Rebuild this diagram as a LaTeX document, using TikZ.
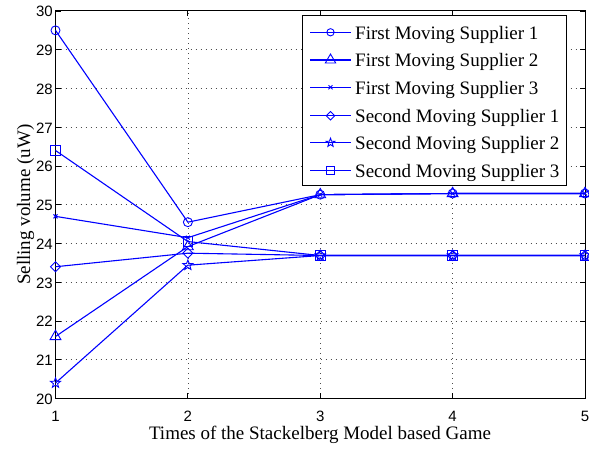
\documentclass[tikz,border=0pt]{standalone}
\usepackage{fontspec}
\setmainfont{Liberation Serif}
\newfontfamily\tickfont{Liberation Sans}
\usetikzlibrary{shapes.geometric,shapes.misc}

\definecolor{plotblue}{RGB}{0,0,255}

% one data series: #1 = name prefix, #2 = marker style, #3 = five values
\newcommand\plotseries[3]{%
  \foreach \v [count=\i] in {#3} { \coordinate (#1\i) at (\i,\v); }
  \draw[dataline] (#11) -- (#12) -- (#13) -- (#14) -- (#15);
  \foreach \i in {1,...,5} { \node[#2] (#1m\i) at (#1\i) {}; }
}

\begin{document}
\begin{tikzpicture}[x=1pt,y=1pt,
  dataline/.style={plotblue, line width=1.1pt},
  mk/.style={draw=plotblue, line width=0.9pt, inner sep=0pt, outer sep=0pt},
  mcirc/.style={mk, circle, minimum size=#1},
  mtri/.style={mk, regular polygon, regular polygon sides=3, minimum size=#1},
  mcross/.style={mk, cross out, minimum size=#1},
  mdiam/.style={mk, diamond, minimum size=#1},
  mstar/.style={mk, star, star points=5, star point ratio=2.4, minimum size=#1},
  msq/.style={mk, rectangle, minimum size=#1},
  gridline/.style={black!70, line width=0.6pt, dash pattern=on 0.7pt off 4.3pt},
  frame/.style={black, line width=1pt},
  tickmark/.style={black, line width=0.8pt},
  ticklabel/.style={font=\tickfont\fontsize{15}{17}\selectfont, inner sep=0pt},
  axislabel/.style={font=\fontsize{19}{22}\selectfont, inner sep=0pt},
  legtext/.style={font=\fontsize{19}{22}\selectfont, inner sep=0pt, anchor=base west},
]
\useasboundingbox (0,0) rectangle (589,449);

% plot area in data units: x = 1..5, y = 20..30
\begin{scope}[x=132.375pt, y=38.75pt, shift={(-76.875pt,-724.5pt)}]
  \coordinate (ll) at (1,20);
  \coordinate (ur) at (5,30);

  % dotted grid
  \foreach \gx in {2,3,4} \draw[gridline] (\gx,20) -- (\gx,30);
  \foreach \gy in {21,...,29} \draw[gridline] (1,\gy) -- (5,\gy);

  % inward ticks on all four sides
  \foreach \gx in {1,...,5} {
    \draw[tickmark] (\gx,20) -- ++(0,5pt);
    \draw[tickmark] (\gx,30) -- ++(0,-5pt);
    \node[ticklabel] (xt\gx) at ([yshift=-17.5pt]\gx,20) {\gx};
  }
  \foreach \gy in {20,...,30} {
    \draw[tickmark] (1,\gy) -- ++(5pt,0);
    \draw[tickmark] (5,\gy) -- ++(-5pt,0);
    \node[ticklabel, anchor=east] (yt\gy) at ([xshift=-2.5pt,yshift=-0.6pt]1,\gy) {\gy};
  }

  % axes box
  \draw[frame] (ll) rectangle (ur);

  % data
  \plotseries{fa}{mcirc=9pt}{29.5,24.55,25.26,25.29,25.29}
  \plotseries{fb}{mtri=12.5pt}{21.6,23.92,25.26,25.29,25.29}
  \plotseries{fc}{mcross=4pt}{24.7,24.15,25.26,25.29,25.29}
  \plotseries{sa}{mdiam=10pt}{23.4,23.75,23.69,23.69,23.69}
  \plotseries{sb}{mstar=10.5pt}{20.4,23.44,23.69,23.69,23.69}
  \plotseries{sc}{msq=9.5pt}{26.4,24.05,23.69,23.69,23.69}
\end{scope}

% axis labels
\node[axislabel, anchor=base] (xlab) at (320,9) {Times of the Stackelberg Model based Game};
\node[axislabel, anchor=base, rotate=90] (ylab) at (30,244.25) {Selling volume (uW)};

% legend
\node[draw=black, line width=0.9pt, fill=white, minimum width=264.3pt, minimum height=170pt,
      inner sep=0pt, anchor=north west] (legend) at (301.7,434) {};
\foreach \row/\ypos/\txt in {
    1/416.7/{First Moving Supplier 1},
    2/389.0/{First Moving Supplier 2},
    3/361.7/{First Moving Supplier 3},
    4/333.3/{Second Moving Supplier 1},
    5/306.3/{Second Moving Supplier 2},
    6/278.3/{Second Moving Supplier 3}} {
  \coordinate (la\row) at (310,\ypos);
  \coordinate (lb\row) at (351,\ypos);
  \draw[dataline] (la\row) -- (lb\row);
  \node[legtext] (lt\row) at (355,\ypos-7) {\txt};
}
\node[mcirc=7.3pt] (lm1) at (330.5,416.7) {};
\node[mtri=12pt] (lm2) at (330.5,389.0) {};
\node[mcross=4pt] (lm3) at (330.5,361.7) {};
\node[mdiam=8.5pt] (lm4) at (330.5,333.3) {};
\node[mstar=9pt] (lm5) at (330.5,306.3) {};
\node[msq=8pt] (lm6) at (330.5,278.3) {};
\end{tikzpicture}
\end{document}
